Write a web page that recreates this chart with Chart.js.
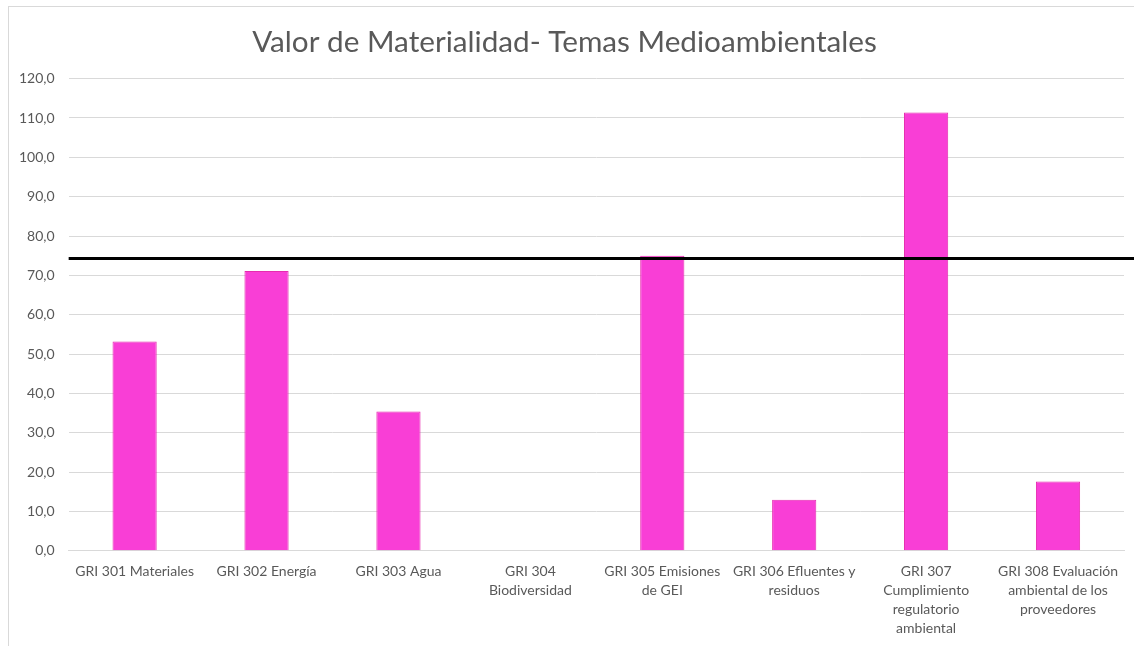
<!DOCTYPE html>
<html lang="es">
<head>
    <meta charset="UTF-8">
    <title>Valor de Materialidad</title>
    <script src="https://cdn.jsdelivr.net/npm/chart.js"></script>
    <style>
        body {
            margin: 0;
            background-color: #fff;
            overflow: hidden;
        }
        .marco {
            position: absolute;
            left: 8px;
            top: 6px;
            width: 1140px;
            height: 680px;
            border: 1px solid #d9d9d9;
        }
    </style>
</head>
<body>
    <div class="marco">
        <canvas id="grafico" width="1125" height="659"></canvas>
    </div>

    <script>
        // Datos
        var categorias = [
            'GRI 301 Materiales',
            'GRI 302 Energía',
            'GRI 303 Agua',
            ['GRI 304', 'Biodiversidad'],
            ['GRI 305 Emisiones', 'de GEI'],
            ['GRI 306 Efluentes y', 'residuos'],
            ['GRI 307', 'Cumplimiento', 'regulatorio', 'ambiental'],
            ['GRI 308 Evaluación', 'ambiental de los', 'proveedores']
        ];
        var valores = [53.2, 71.1, 35.4, 0, 75.0, 13.0, 111.4, 17.6];
        var umbral = [74.3];
        var ticksY = [0, 10, 20, 30, 40, 50, 60, 70, 80, 90, 100, 110, 120];

        // Linea horizontal del umbral (de la izquierda del area hasta el borde)
        var lineaUmbral = {
            id: 'lineaUmbral',
            afterDatasetsDraw: function(chart) {
                var ctx = chart.ctx;
                var y = chart.scales.y.getPixelForValue(umbral[0]);
                ctx.save();
                ctx.strokeStyle = '#000';
                ctx.lineWidth = 3;
                ctx.beginPath();
                ctx.moveTo(chart.chartArea.left, y);
                ctx.lineTo(chart.width, y);
                ctx.stroke();
                ctx.restore();
            }
        };

        var ctx = document.getElementById('grafico').getContext('2d');
        var grafico = new Chart(ctx, {
            type: 'bar',
            data: {
                labels: categorias,
                datasets: [{
                    label: 'Valor',
                    data: valores,
                    backgroundColor: '#F93ED6',
                    borderColor: '#E62BB0',
                    borderWidth: 1,
                    barPercentage: 0.335,
                    categoryPercentage: 1
                }]
            },
            options: {
                responsive: false,
                animation: false,
                layout: {
                    padding: { left: -4, right: 10, top: 0, bottom: 25 }
                },
                plugins: {
                    legend: { display: false },
                    tooltip: { enabled: false },
                    title: {
                        display: true,
                        text: 'Valor de Materialidad- Temas Medioambientales',
                        color: '#595959',
                        font: { family: 'Lato', size: 29.7, weight: 'normal' },
                        padding: { top: 18, bottom: 18 }
                    }
                },
                scales: {
                    x: {
                        grid: { display: false },
                        border: { color: '#d9d9d9', width: 1 },
                        ticks: {
                            color: '#595959',
                            font: { family: 'Lato', size: 14, lineHeight: 1.36 },
                            maxRotation: 0,
                            autoSkip: false,
                            padding: 3
                        }
                    },
                    y: {
                        min: 0,
                        max: 120,
                        afterBuildTicks: function(axis) {
                            axis.ticks = ticksY.map(function(v) { return { value: v }; });
                        },
                        grid: {
                            color: '#d9d9d9',
                            drawTicks: false
                        },
                        border: { display: false },
                        ticks: {
                            color: '#595959',
                            font: { family: 'Lato', size: 14 },
                            padding: 14,
                            callback: function(v) {
                                return v.toFixed(1).replace('.', ',');
                            }
                        }
                    }
                }
            },
            plugins: [lineaUmbral]
        });
    </script>
</body>
</html>
